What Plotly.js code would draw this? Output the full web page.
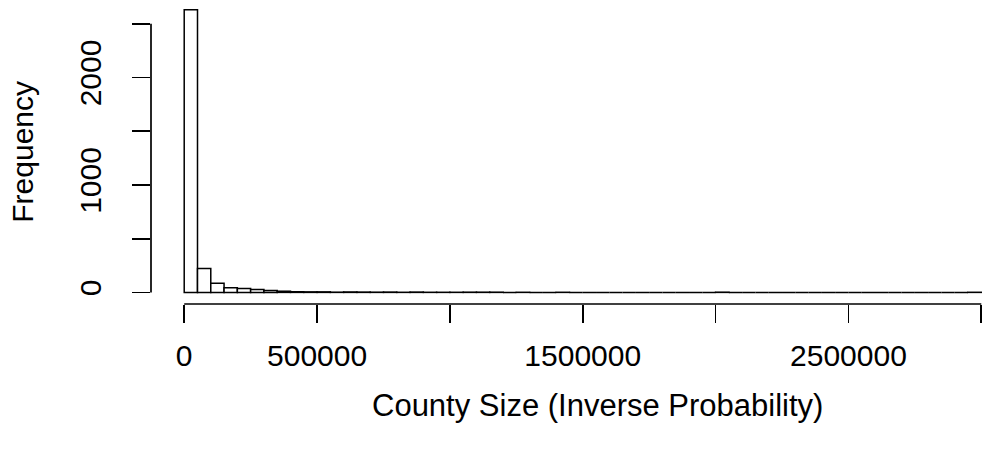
<!DOCTYPE html>
<html>
<head>
<meta charset="utf-8">
<script src="https://cdn.plot.ly/plotly-3.0.1.min.js"></script>
<style>
  html, body { margin: 0; padding: 0; background: #ffffff; }
  #chart { width: 985px; height: 453px; }
</style>
</head>
<body>
<div id="chart"></div>
<script>
// Histogram of county sizes: counts per 50,000-wide bin from 0 to 3,000,000
const binWidth = 50000;
const counts = [
  2630, 222, 84, 44, 36, 27, 17, 11, 6, 5,
  5, 2, 4, 3, 2, 3, 1, 3, 1, 1,
  1, 2, 2, 2, 0, 1, 0, 0, 1, 0,
  0, 0, 0, 0, 0, 0, 0, 0, 0, 0,
  2, 0, 0, 0, 0, 0, 0, 0, 0, 0,
  0, 0, 0, 0, 0, 0, 0, 0, 0, 1
];

// Axis ticks; R drops labels that would overlap, so some stay blank
const xTickVals = [0, 500000, 1000000, 1500000, 2000000, 2500000, 3000000];
const xTickText = ['0', '500000', '', '1500000', '', '2500000', ''];
const yTickVals = [0, 500, 1000, 1500, 2000, 2500];
const yTickText = ['0', '', '1000', '', '2000', ''];

const xTitle = 'County Size (Inverse Probability)';
const yTitle = 'Frequency';

const binCenters = counts.map((_, i) => i * binWidth + binWidth / 2);
const xMax = counts.length * binWidth;

const FONT = 'Liberation Sans, Arial, Helvetica, sans-serif';

const trace = {
  type: 'bar',
  x: binCenters,
  y: counts,
  width: binWidth,
  marker: { color: '#ffffff', line: { color: '#000000', width: 1.5 } },
  hoverinfo: 'x+y'
};

const layout = {
  width: 985,
  height: 453,
  margin: { l: 151, r: 0, t: 0, b: 149 },
  paper_bgcolor: '#ffffff',
  plot_bgcolor: '#ffffff',
  showlegend: false,
  bargap: 0,
  font: { family: FONT, size: 30, color: '#000000' },
  xaxis: {
    range: [-125000, 3014000],
    showgrid: false,
    zeroline: false,
    showline: false,
    tickmode: 'array',
    tickvals: xTickVals,
    ticktext: xTickText,
    ticks: 'outside',
    ticklen: 18,
    tickwidth: 1.7,
    tickcolor: '#000000',
    ticklabelstandoff: 7,
    tickfont: { family: FONT, size: 30, color: '#000000' }
  },
  yaxis: {
    range: [-108, 2721],
    showgrid: false,
    zeroline: false,
    showline: false,
    tickmode: 'array',
    tickvals: yTickVals,
    ticktext: yTickText,
    tickangle: -90,
    ticks: 'outside',
    ticklen: 18,
    tickwidth: 1.7,
    tickcolor: '#000000',
    ticklabelstandoff: 19,
    tickfont: { family: FONT, size: 30, color: '#000000' }
  },
  shapes: [
    // y axis line spans only the labelled tick range
    { type: 'line', xref: 'paper', yref: 'y', x0: 0, x1: 0, y0: 0, y1: 2500,
      line: { color: '#000000', width: 1.7 } },
    // x axis line spans the histogram breaks
    { type: 'line', xref: 'x', yref: 'paper', x0: 0, x1: xMax, y0: 0, y1: 0,
      line: { color: '#000000', width: 1.7 } }
  ],
  annotations: [
    { text: xTitle, xref: 'paper', yref: 'paper', x: 0.535, y: -0.335,
      xanchor: 'center', yanchor: 'middle', showarrow: false,
      font: { family: FONT, size: 31, color: '#000000' } },
    { text: yTitle, xref: 'paper', yref: 'paper', x: -0.155, y: 0.5,
      xanchor: 'center', yanchor: 'middle', showarrow: false, textangle: -90,
      font: { family: FONT, size: 30, color: '#000000' } }
  ]
};

Plotly.newPlot('chart', [trace], layout, { displayModeBar: false, staticPlot: true });
</script>
</body>
</html>
